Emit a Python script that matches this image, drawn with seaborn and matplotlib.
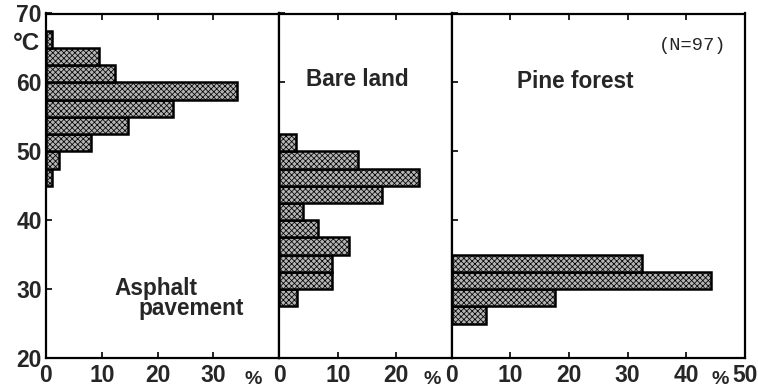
import numpy as np
import pandas as pd
import matplotlib
matplotlib.use("Agg")
import matplotlib.pyplot as plt
import seaborn as sns

# Temperature bins are 2.5 degC wide; values are percent of observations
bin_width = 2.5

asphalt_start = 45.0
asphalt_pct = [1.0, 2.4, 8.1, 14.7, 22.8, 34.2, 12.3, 9.5, 1.0]

bare_start = 27.5
bare_pct = [3.1, 9.0, 9.0, 11.9, 6.6, 4.1, 17.6, 23.9, 13.5, 2.8]

pine_start = 25.0
pine_pct = [5.9, 17.7, 44.2, 32.5]

panel_names = ["Asphalt pavement", "Bare land", "Pine forest"]
panel_xmax = [41.8, 29.4, 50.0]
panel_xticks = [[0, 10, 20, 30], [0, 10, 20], [0, 10, 20, 30, 40, 50]]
y_ticks = [20, 30, 40, 50, 60, 70]
sample_note = "(N=97)"

sns.set_theme(style="white")
plt.rcParams["font.family"] = ["Liberation Sans", "DejaVu Sans"]
plt.rcParams["hatch.linewidth"] = 0.55
plt.rcParams["hatch.color"] = "#111111"

W, H = 758, 391
fig = plt.figure(figsize=(W / 100, H / 100), dpi=100)
gs = fig.add_gridspec(
    1, 3, width_ratios=[233, 172.4, 293.3], wspace=0,
    left=46 / W, right=745 / W, top=1 - 13.5 / H, bottom=1 - 358 / H,
)

series = [(asphalt_start, asphalt_pct), (bare_start, bare_pct), (pine_start, pine_pct)]
tick_family = ["Liberation Sans Narrow", "Liberation Sans"]
tick_size = 16.5

axes = []
for i, (start, pct) in enumerate(series):
    ax = fig.add_subplot(gs[0, i])
    axes.append(ax)
    n = len(pct)
    centers = start + bin_width * (np.arange(n) + 0.5)
    df = pd.DataFrame({"temp": centers, "pct": pct})
    sns.histplot(data=df, y="temp", weights="pct", binwidth=bin_width,
                 binrange=(start, start + bin_width * n), ax=ax,
                 color="#b4b4b4", edgecolor="black", linewidth=1.8, alpha=1)
    for p in ax.patches:
        p.set_hatch("xxxxxx")
    ax.set_xlim(0, panel_xmax[i])
    ax.set_ylim(20, 70)
    ax.set_xlabel("")
    ax.set_ylabel("")
    ax.set_xticks(panel_xticks[i])
    ax.set_yticks(y_ticks)
    ax.tick_params(direction="in", length=4, width=1.2, color="black",
                   top=True, bottom=True, left=True, right=False, pad=4)
    for lab in ax.get_xticklabels():
        lab.set_fontfamily(tick_family)
        lab.set_fontweight("bold")
        lab.set_fontsize(tick_size)
    if i == 0:
        ax.set_yticklabels([str(t) for t in y_ticks])
        for lab in ax.get_yticklabels():
            lab.set_fontfamily(tick_family)
            lab.set_fontweight("bold")
            lab.set_fontsize(tick_size)
        ax.tick_params(axis="y", pad=3)
    else:
        ax.set_yticklabels([])
    for s in ax.spines.values():
        s.set_color("black")
        s.set_linewidth(1.6)
    ax.grid(False)


def px(x, y):
    return x / W, 1 - y / H


label_font = dict(family=["Liberation Sans", "DejaVu Sans"], weight="bold", size=16.3)
fig.text(*px(156, 288), "Asphalt", ha="center", va="center", **label_font)
fig.text(*px(191, 309), "pavement", ha="center", va="center", **label_font)
fig.text(*px(357, 80), "Bare land", ha="center", va="center", **label_font)
fig.text(*px(575, 82), "Pine forest", ha="center", va="center", **label_font)
fig.text(*px(693, 46), sample_note, ha="center", va="center",
         family=["Liberation Mono", "DejaVu Sans Mono"], size=13.5)
fig.text(*px(26, 44), "°C", ha="center", va="center",
         family=tick_family, weight="bold", size=tick_size + 1)
for xp in (253, 432, 720):
    fig.text(*px(xp, 379), "%", ha="center", va="center",
             family=tick_family, weight="bold", size=14)

fig.savefig("out.png", dpi=100)
